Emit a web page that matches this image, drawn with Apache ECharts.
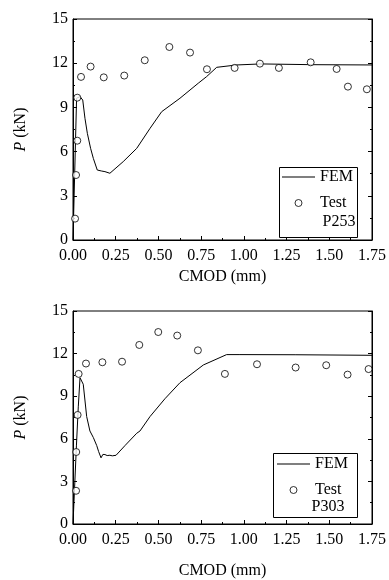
<!DOCTYPE html>
<html><head><meta charset="utf-8">
<script src="https://cdn.jsdelivr.net/npm/echarts@6/dist/echarts.min.js"></script>
<style>html,body{margin:0;padding:0;background:#fff}#c{width:389px;height:580px}</style>
</head><body><div id="c"></div>
<script>
// Top panel (P253)
const femTopX = [0, 0.021, 0.041, 0.057, 0.070, 0.084, 0.103, 0.119, 0.142, 0.168, 0.187, 0.216, 0.294, 0.373, 0.451, 0.519, 0.626, 0.733, 0.782, 0.841, 0.958, 1.10, 1.40, 1.75];
const femTopY = [0, 9.62, 9.73, 9.5, 8.26, 7.24, 6.22, 5.54, 4.75, 4.68, 4.64, 4.53, 5.32, 6.22, 7.58, 8.71, 9.62, 10.64, 11.09, 11.72, 11.88, 11.95, 11.9, 11.88];
const testTopX = [0.012, 0.018, 0.025, 0.025, 0.047, 0.103, 0.18, 0.30, 0.42, 0.564, 0.685, 0.784, 0.946, 1.094, 1.205, 1.391, 1.543, 1.609, 1.72];
const testTopY = [1.45, 4.41, 6.74, 9.66, 11.07, 11.77, 11.04, 11.16, 12.2, 13.1, 12.72, 11.59, 11.68, 11.97, 11.68, 12.06, 11.61, 10.41, 10.23];
// Bottom panel (P303)
const femBotX = [0, 0.02, 0.031, 0.041, 0.060, 0.080, 0.099, 0.119, 0.139, 0.150, 0.164, 0.175, 0.187, 0.20, 0.216, 0.23, 0.252, 0.304, 0.373, 0.392, 0.451, 0.538, 0.626, 0.763, 0.899, 0.977, 1.30, 1.75];
const femBotY = [0, 5.5, 8.25, 10.3, 9.84, 7.57, 6.55, 6.09, 5.52, 5.1, 4.66, 4.9, 4.89, 4.82, 4.84, 4.8, 4.84, 5.52, 6.39, 6.55, 7.57, 8.82, 9.95, 11.2, 11.93, 11.93, 11.92, 11.88];
const testBotX = [0.018, 0.019, 0.027, 0.033, 0.076, 0.172, 0.287, 0.388, 0.499, 0.61, 0.731, 0.889, 1.077, 1.303, 1.482, 1.607, 1.73];
const testBotY = [2.34, 5.07, 7.68, 10.57, 11.3, 11.39, 11.43, 12.61, 13.52, 13.27, 12.23, 10.57, 11.25, 11.02, 11.18, 10.52, 10.91];
const xTicks = ['0.00','0.25','0.50','0.75','1.00','1.25','1.50','1.75'];
const yTicks = ['0','3','6','9','12','15'];
const panelLabels = ['P253', 'P303'];

const FONT = '"Liberation Serif", "Times New Roman", Times, serif';
const FS = 16;
const zip = (a, b) => a.map((v, i) => [v, b[i]]);

const grids = [
  {left: 73, top: 19, width: 299, height: 221},
  {left: 73, top: 311, width: 299, height: 220}
];
const xNameGaps = [29, 39];

function xAxis(i) {
  return {
    type: 'value', gridIndex: i, min: 0, max: 1.75, interval: 0.25,
    axisLine: {show: true, onZero: false, lineStyle: {color: '#000', width: 1}},
    axisTick: {show: true, inside: true, length: 4, lineStyle: {color: '#000'}},
    minorTick: {show: true, splitNumber: 2, length: 2, lineStyle: {color: '#000'}},
    splitLine: {show: false},
    axisLabel: {color: '#000', fontFamily: FONT, fontSize: FS, margin: 8,
      formatter: v => xTicks[Math.round(v / 0.25)]},
    name: 'CMOD (mm)', nameLocation: 'middle', nameGap: xNameGaps[i],
    nameTextStyle: {color: '#000', fontFamily: FONT, fontSize: FS}
  };
}
function yAxis(i) {
  return {
    type: 'value', gridIndex: i, min: 0, max: 15, interval: 3,
    axisLine: {show: true, onZero: false, lineStyle: {color: '#000', width: 1}},
    axisTick: {show: true, inside: true, length: 4, lineStyle: {color: '#000'}},
    minorTick: {show: true, splitNumber: 2, length: 2, lineStyle: {color: '#000'}},
    splitLine: {show: false},
    axisLabel: {color: '#000', fontFamily: FONT, fontSize: FS, margin: 5,
      formatter: v => yTicks[Math.round(v / 3)]},
    name: '{i|P} (kN)', nameLocation: 'middle', nameGap: 44, nameRotate: 90,
    nameTextStyle: {color: '#000', fontFamily: FONT, fontSize: FS,
      rich: {i: {fontStyle: 'italic', fontFamily: FONT, fontSize: FS, color: '#000'}}}
  };
}
function yAxisRight(i) {
  return {
    type: 'value', gridIndex: i, min: 0, max: 15, interval: 3, position: 'right',
    axisLine: {show: true, onZero: false, lineStyle: {color: '#000', width: 1}},
    axisTick: {show: true, inside: true, length: 4, lineStyle: {color: '#000'}},
    minorTick: {show: true, splitNumber: 2, length: 2, lineStyle: {color: '#000'}},
    splitLine: {show: false}, axisLabel: {show: false}
  };
}

const series = [];
[[femTopX, femTopY, testTopX, testTopY], [femBotX, femBotY, testBotX, testBotY]].forEach((d, i) => {
  series.push({
    name: 'FEM', type: 'line', xAxisIndex: i, yAxisIndex: i * 2, data: zip(d[0], d[1]),
    showSymbol: false, symbol: 'none', lineStyle: {color: '#000', width: 1}, itemStyle: {color: '#000'},
    z: 2, silent: true, animation: false
  });
  series.push({
    name: 'Test', type: 'scatter', xAxisIndex: i, yAxisIndex: i * 2, data: zip(d[2], d[3]),
    symbol: 'circle', symbolSize: 7,
    itemStyle: {color: '#fff', borderColor: '#000', borderWidth: 1},
    z: 3, silent: true, animation: false
  });
});

const boxes = [
  {x: 279, y: 167, w: 78, h: 70, textY: 222, textX: 339, lx: 282, ly: 177},
  {x: 273, y: 453, w: 84, h: 64, textY: 507, textX: 328, lx: 277, ly: 464}
];
const graphic = [];
boxes.forEach((b, i) => {
  graphic.push({type: 'rect', shape: {x: b.x + 0.5, y: b.y + 0.5, width: b.w, height: b.h},
    style: {fill: '#fff', stroke: '#000', lineWidth: 1}, z: 10});
  graphic.push({type: 'text', x: b.textX, y: b.textY, z: 11,
    style: {text: panelLabels[i], fill: '#000', font: FS + 'px ' + FONT, align: 'center', verticalAlign: 'middle'}});
});

const legends = boxes.map((b, i) => ({
  orient: 'vertical', left: b.lx, top: b.ly - 9, itemGap: 8, padding: 0,
  itemWidth: 33, itemHeight: 7, z: 12,
  data: [
    {name: 'FEM', icon: 'path://M0,3L33,3L33,4L0,4Z', itemStyle: {color: '#000'}},
    {name: 'Test', icon: 'circle', itemStyle: {color: '#fff', borderColor: '#000', borderWidth: 1}}
  ],
  textStyle: {color: '#000', fontFamily: FONT, fontSize: FS, lineHeight: 18},
  selectedMode: false
}));

const chart = echarts.init(document.getElementById('c'), null, {renderer: 'canvas'});
chart.setOption({
  animation: false,
  backgroundColor: '#fff',
  grid: grids.map(g => Object.assign({show: true, borderColor: '#000', borderWidth: 1, backgroundColor: 'transparent'}, g)),
  xAxis: [xAxis(0), xAxis(1)],
  yAxis: [yAxis(0), yAxisRight(0), yAxis(1), yAxisRight(1)],
  legend: legends,
  graphic: graphic,
  series: series
});
</script></body></html>
